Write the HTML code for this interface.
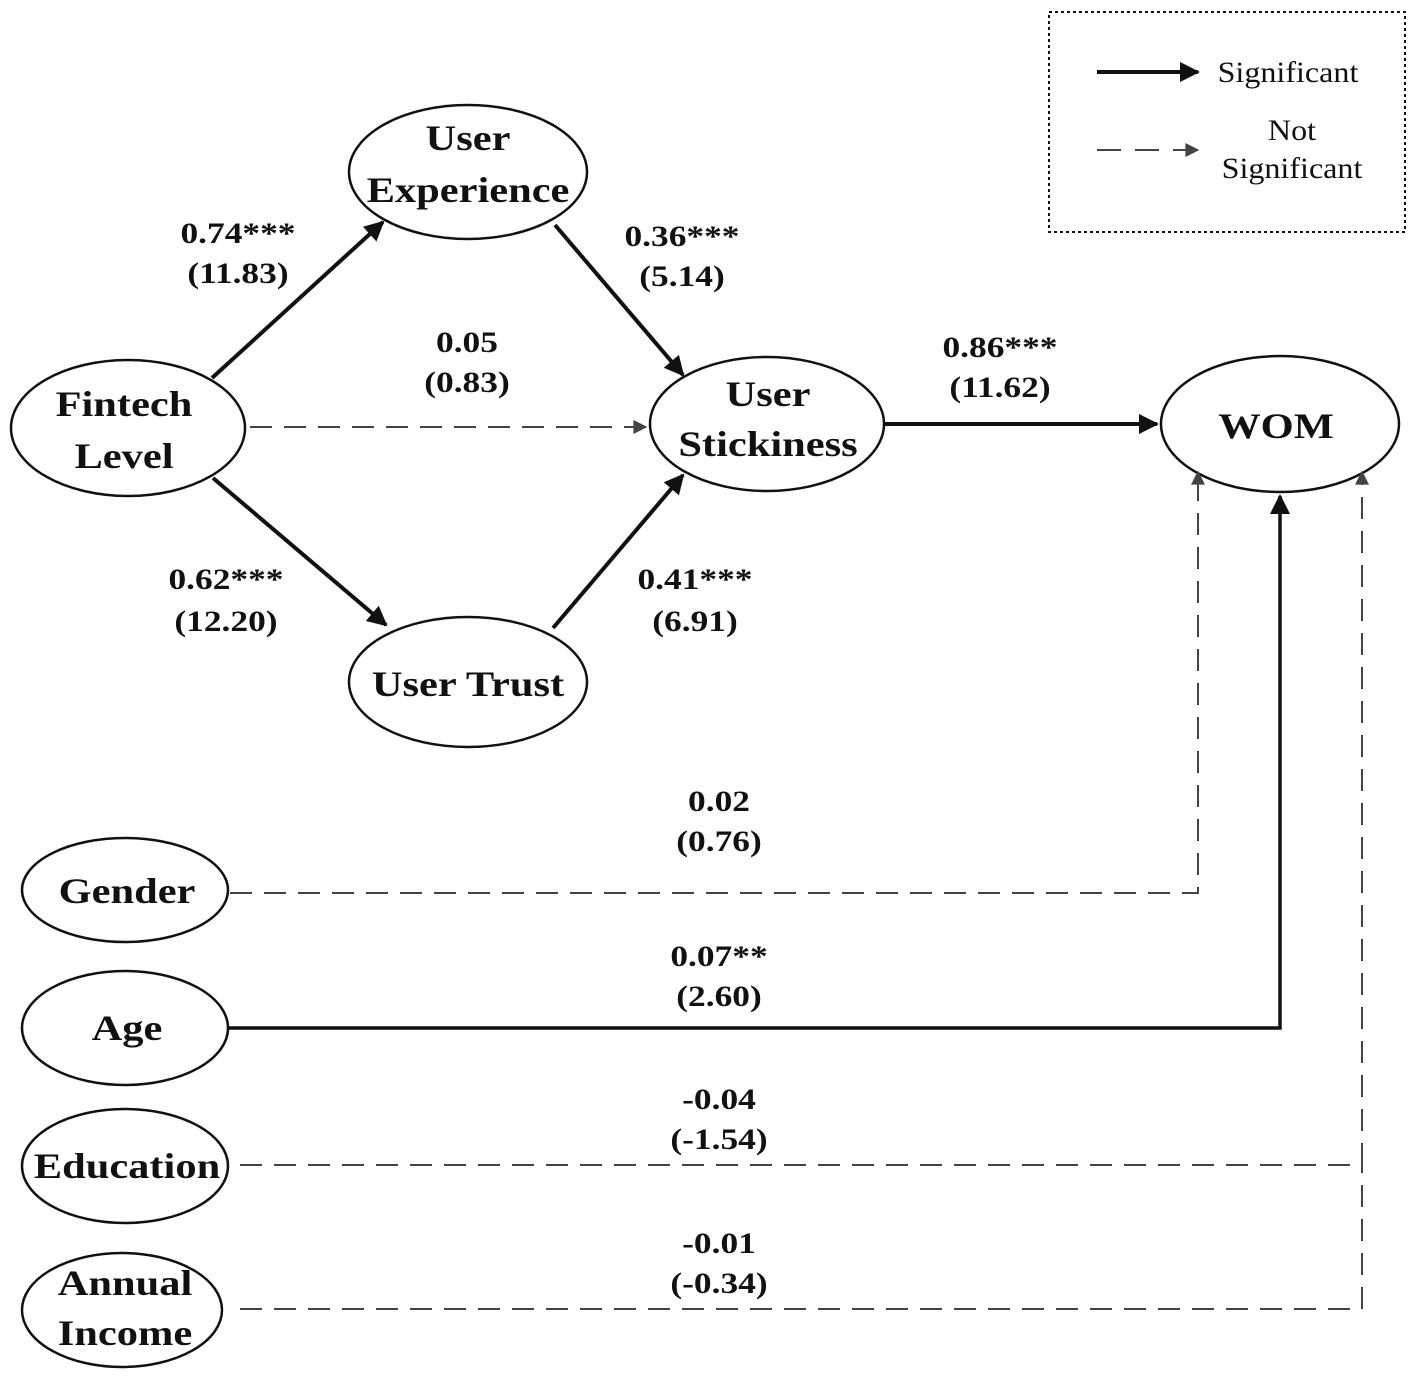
<!DOCTYPE html>
<html><head><meta charset="utf-8"><style>
html,body{margin:0;padding:0;background:#fff;}
svg{display:block;}
text{transform-box:fill-box;transform-origin:center;}
.n{font-family:"Liberation Serif",serif;font-weight:bold;font-size:36px;text-anchor:middle;fill:#111;transform:scaleX(1.18);}
.c{font-family:"Liberation Serif",serif;font-weight:bold;font-size:30px;text-anchor:middle;fill:#111;transform:scaleX(1.18);}
.l{font-family:"Liberation Serif",serif;font-size:30px;text-anchor:middle;fill:#111;transform:scaleX(1.07);}
</style></head><body>
<svg width="1417" height="1377" viewBox="0 0 1417 1377" xmlns="http://www.w3.org/2000/svg">
<defs>
<marker id="A" viewBox="0 0 10 10" refX="9" refY="5" markerWidth="24" markerHeight="20" orient="auto" markerUnits="userSpaceOnUse"><path d="M0,0 L10,5 L0,10 z" fill="#111"/></marker>
<marker id="d" viewBox="0 0 10 10" refX="9" refY="5" markerWidth="16" markerHeight="14" orient="auto" markerUnits="userSpaceOnUse"><path d="M0,0 L10,5 L0,10 z" fill="#444"/></marker>
</defs>
<g fill="#fff" stroke="#111" stroke-width="2.5">
<ellipse cx="468" cy="172" rx="119" ry="67"/>
<ellipse cx="128" cy="428" rx="117" ry="68"/>
<ellipse cx="767" cy="424" rx="117" ry="67"/>
<ellipse cx="1280" cy="424" rx="119" ry="68"/>
<ellipse cx="468" cy="682" rx="119" ry="65"/>
<ellipse cx="125" cy="890" rx="103" ry="52"/>
<ellipse cx="125" cy="1028" rx="103" ry="57"/>
<ellipse cx="125" cy="1166" rx="103" ry="57"/>
<ellipse cx="122" cy="1310" rx="100" ry="57"/>
</g>
<rect x="1049" y="12" width="356" height="220" fill="none" stroke="#111" stroke-width="2" stroke-dasharray="3,3"/>
<line x1="1097" y1="72" x2="1198" y2="72" stroke="#111" stroke-width="4" marker-end="url(#A)"/>
<line x1="1097" y1="150" x2="1198" y2="150" stroke="#444" stroke-width="2" stroke-dasharray="24,14" marker-end="url(#d)"/>
<text class="l" x="1288" y="82">Significant</text>
<text class="l" x="1292" y="140">Not</text>
<text class="l" x="1292" y="178">Significant</text>

<g stroke="#111" stroke-width="4" fill="none">
<line x1="212" y1="378" x2="383" y2="222" marker-end="url(#A)"/>
<line x1="213" y1="478" x2="386" y2="625" marker-end="url(#A)"/>
<line x1="555" y1="225" x2="683" y2="375" marker-end="url(#A)"/>
<line x1="553" y1="628" x2="683" y2="475" marker-end="url(#A)"/>
<line x1="884" y1="424" x2="1157" y2="424" marker-end="url(#A)"/>
<polyline points="228,1028 1280,1028 1280,496" stroke-width="3.5" marker-end="url(#A)"/>
</g>
<g stroke="#444" stroke-width="2" fill="none" stroke-dasharray="22,12">
<line x1="250" y1="427" x2="646" y2="427" marker-end="url(#d)"/>
<polyline points="230,893 1198,893 1198,472" marker-end="url(#d)"/>
<polyline points="240,1165 1362,1165 1362,472" marker-end="url(#d)"/>
<polyline points="240,1309 1362,1309 1362,1165"/>
</g>

<text class="n" x="468" y="150">User</text>
<text class="n" x="468" y="202">Experience</text>
<text class="n" x="124" y="416">Fintech</text>
<text class="n" x="124" y="468">Level</text>
<text class="n" x="768" y="406">User</text>
<text class="n" x="768" y="456">Stickiness</text>
<text class="n" x="1276" y="438">WOM</text>
<text class="n" x="468" y="696">User Trust</text>
<text class="n" x="127" y="903">Gender</text>
<text class="n" x="127" y="1040">Age</text>
<text class="n" x="127" y="1178">Education</text>
<text class="n" x="125" y="1295">Annual</text>
<text class="n" x="125" y="1345">Income</text>

<text class="c" x="238" y="243">0.74***</text>
<text class="c" x="238" y="283">(11.83)</text>
<text class="c" x="682" y="246">0.36***</text>
<text class="c" x="682" y="286">(5.14)</text>
<text class="c" x="467" y="352">0.05</text>
<text class="c" x="467" y="392">(0.83)</text>
<text class="c" x="1000" y="357">0.86***</text>
<text class="c" x="1000" y="397">(11.62)</text>
<text class="c" x="226" y="589">0.62***</text>
<text class="c" x="226" y="631">(12.20)</text>
<text class="c" x="695" y="589">0.41***</text>
<text class="c" x="695" y="631">(6.91)</text>
<text class="c" x="719" y="811">0.02</text>
<text class="c" x="719" y="851">(0.76)</text>
<text class="c" x="719" y="966">0.07**</text>
<text class="c" x="719" y="1006">(2.60)</text>
<text class="c" x="719" y="1109">-0.04</text>
<text class="c" x="719" y="1149">(-1.54)</text>
<text class="c" x="719" y="1253">-0.01</text>
<text class="c" x="719" y="1293">(-0.34)</text>
</svg>
</body></html>
